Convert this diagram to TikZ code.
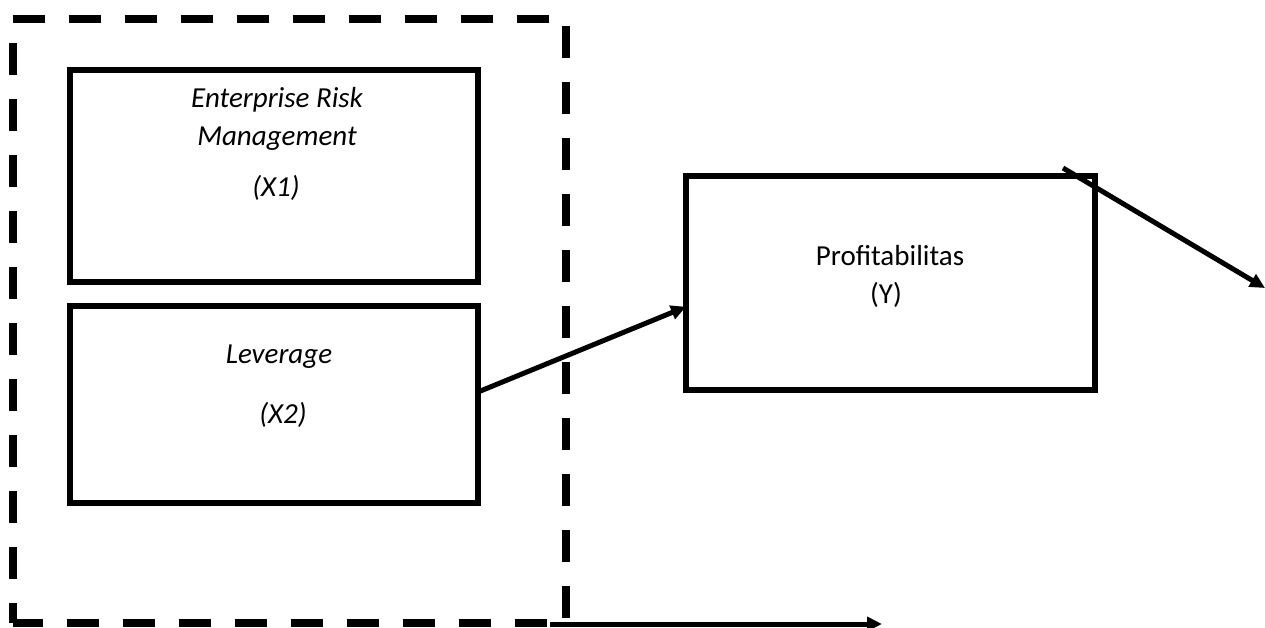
\documentclass[tikz,border=0pt]{standalone}
\usepackage{fontspec}
\setmainfont{Carlito}
\usetikzlibrary{arrows.meta}
\begin{document}
\begin{tikzpicture}[x=1pt,y=-1pt,
  box/.style={draw,line width=6pt,inner sep=0pt,outer sep=0pt},
  grpbox/.style={draw,line width=8pt,dash pattern=on 32pt off 24pt,dash phase=2pt,inner sep=0pt,outer sep=0pt},
  conn/.style={line width=5pt,-{Triangle[length=15pt,width=14pt]}},
  lbl/.style={font=\fontsize{29}{34}\selectfont,inner sep=0pt,anchor=base},
  ilbl/.style={lbl,font=\fontsize{29}{34}\itshape\selectfont}]
\useasboundingbox (0,0) rectangle (1265,627);
\node[grpbox,minimum width=553pt,minimum height=604pt] (grp) at (289.5,321) {};
\node[box,minimum width=408pt,minimum height=212pt] (x1) at (274,176) {};
\node[box,minimum width=408pt,minimum height=197pt] (x2) at (274,404.5) {};
\node[box,minimum width=408.5pt,minimum height=214.5pt] (y) at (890.25,282.75) {};
\node[ilbl] (t1) at (277,107) {Enterprise Risk};
\node[ilbl] (t2) at (277,145) {Management};
\node[ilbl] (t3) at (276,196) {(X1)};
\node[ilbl] (t4) at (279,363) {Leverage};
\node[ilbl] (t5) at (283,423) {(X2)};
\node[lbl] (t6) at (890,265) {Profitabilitas};
\node[lbl] (t7) at (886,303) {(Y)};
\coordinate (e1) at (1265,288);
\coordinate (e2) at (882,624);
\draw[conn] ([yshift=12.5pt]x2.east) -- ([yshift=-24pt]y.west);
\draw[conn] ([xshift=-31.5pt,yshift=7.5pt]y.north east) -- (e1);
\draw[conn] ([xshift=-16pt,yshift=-1pt]grp.south east) -- (e2);
\end{tikzpicture}
\end{document}
